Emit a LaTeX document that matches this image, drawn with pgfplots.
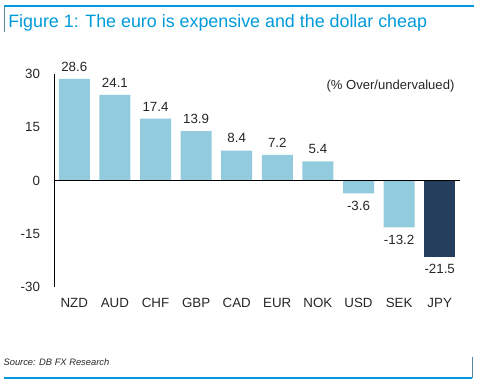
\documentclass[border=0pt]{standalone}
\usepackage{pgfplots}
\pgfplotsset{compat=1.18}
\usepackage{fontspec}
\setmainfont{Liberation Sans}
\definecolor{dbblue}{RGB}{0,154,218}
\definecolor{lightbar}{RGB}{146,203,221}
\definecolor{darkbar}{RGB}{37,62,94}
\definecolor{txt}{RGB}{38,38,38}
\begin{document}
\begin{tikzpicture}
\useasboundingbox (0,0) rectangle (360pt,288pt);
% frame lines
\draw[dbblue, line width=0.8pt] (3pt,283.5pt) -- (355.5pt,283.5pt);
\draw[gray!70!dbblue, line width=0.6pt] (3pt,283.5pt) -- (3pt,264pt);
\draw[dbblue, line width=0.8pt] (3pt,4.5pt) -- (354pt,4.5pt);
\draw[gray!70!dbblue, line width=0.6pt] (354pt,4.5pt) -- (354pt,20.25pt);
\node[anchor=base west, inner sep=0pt, text=dbblue, font=\fontsize{13.4}{16}\selectfont] at (6pt,267pt) {Figure 1: The euro is expensive and the dollar cheap};
\node[anchor=base west, inner sep=0pt, text=txt, font=\fontsize{7}{8}\selectfont\itshape] at (2.5pt,13.5pt) {Source: DB FX Research};
\node[anchor=base east, inner sep=0pt, text=txt, font=\fontsize{9.8}{11}\selectfont] at (341pt,220.5pt) {(\% Over/undervalued)};
\begin{axis}[
  at={(40.5pt,72.75pt)}, anchor=south west,
  scale only axis, width=304.5pt, height=159.75pt,
  xmin=-0.5, xmax=9.5, ymin=-30, ymax=30,
  axis lines=left, axis line style={-, black, line width=0.6pt},
  x axis line style={draw=none},
  xtick={0,...,9},
  xticklabels={NZD,AUD,CHF,GBP,CAD,EUR,NOK,USD,SEK,JPY},
  ytick={-30,-15,0,15,30},
  major tick length=0pt,
  tick label style={font=\fontsize{10}{12}\selectfont, text=txt},
  xticklabel style={yshift=-5pt},
  yticklabel style={xshift=-7pt},
  /pgf/number format/assume math mode=true,
  clip=false,
]
\addplot[ybar, bar width=23.25pt, bar shift=0pt, fill=lightbar, draw=none,
  nodes near coords, nodes near coords align=vertical,
  every node near coord/.append style={font=\fontsize{10}{12}\selectfont, text=txt, inner ysep=5.5pt},
  /pgf/number format/.cd, fixed, fixed zerofill, precision=1, assume math mode=true]
  coordinates {(0,28.6) (1,24.1) (2,17.4) (3,13.9) (4,8.4) (5,7.2) (6,5.4) (7,-3.6) (8,-13.2)};
\addplot[ybar, bar width=23.25pt, bar shift=0pt, fill=darkbar, draw=none,
  nodes near coords, nodes near coords align=vertical,
  every node near coord/.append style={font=\fontsize{10}{12}\selectfont, text=txt, inner ysep=5.5pt},
  /pgf/number format/.cd, fixed, fixed zerofill, precision=1, assume math mode=true]
  coordinates {(9,-21.5)};
\draw[black, line width=0.6pt] (axis cs:-0.5,0) -- (axis cs:9.5,0);
\end{axis}
\end{tikzpicture}
\end{document}
